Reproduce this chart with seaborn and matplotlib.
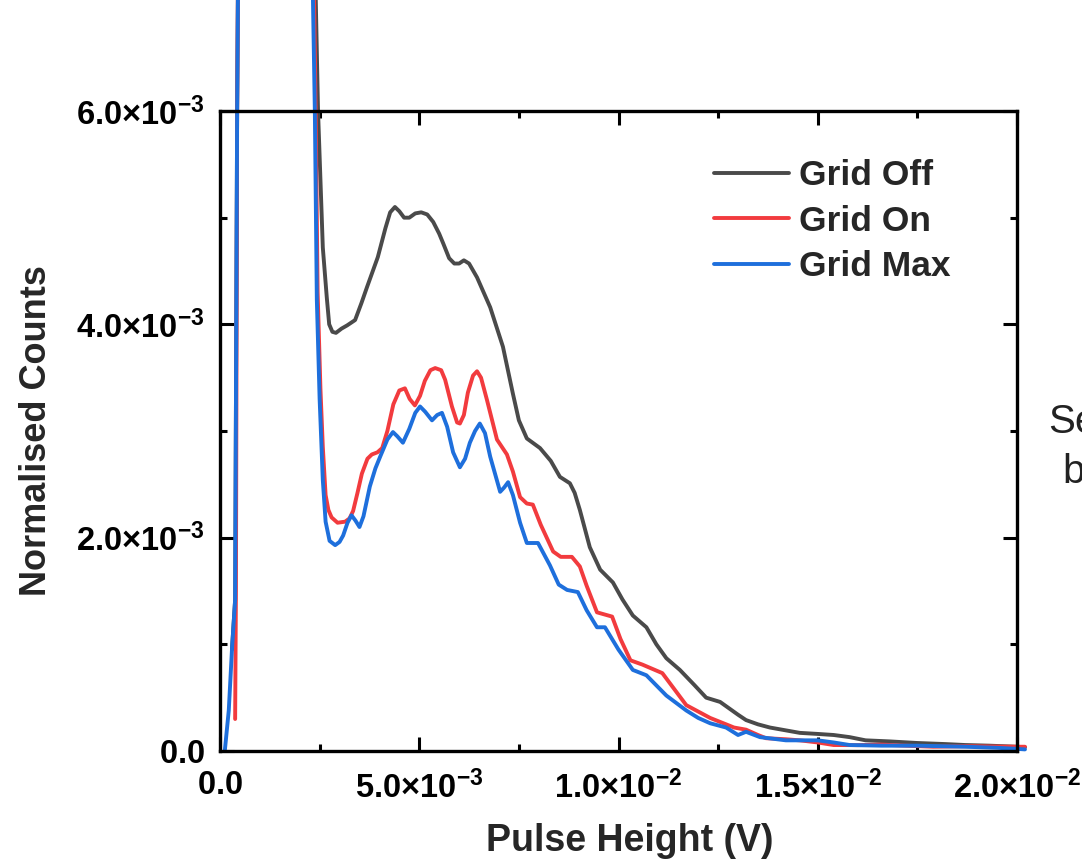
import matplotlib
matplotlib.use("Agg")
import matplotlib.pyplot as plt
import seaborn as sns
import pandas as pd
from matplotlib.ticker import FixedLocator, FixedFormatter, MultipleLocator

# values: x in units of 1e-3 V, y in units of 1e-3 counts
grid_off_x = [0.30, 0.38, 0.43, 0.45, 0.60, 1.40, 2.20, 2.40, 2.46, 2.58, 2.68, 2.74, 2.82, 2.91,
              3.05, 3.19, 3.39, 3.55, 3.69, 3.96, 4.15, 4.27, 4.39, 4.50, 4.62, 4.75, 4.90, 5.05,
              5.20, 5.35, 5.50, 5.60, 5.75, 5.88, 6.00, 6.12, 6.25, 6.45, 6.78, 7.10, 7.35, 7.50,
              7.70, 8.03, 8.30, 8.53, 8.78, 8.90, 9.03, 9.28, 9.54, 9.86, 10.1, 10.36, 10.7, 10.95,
              11.2, 11.54, 11.9, 12.2, 12.55, 13.0, 13.2, 13.5, 13.8, 14.1, 14.55, 15.0, 15.4,
              15.8, 16.2, 16.8, 17.5, 18.2, 18.7, 19.3, 20.0, 20.2]
grid_off_y = [0.95, 1.42, 6.0, 7.1, 10.0, 30.0, 10.5, 7.1, 6.0, 4.72, 4.25, 4.00, 3.93, 3.92,
              3.96, 3.99, 4.04, 4.20, 4.35, 4.63, 4.90, 5.05, 5.10, 5.06, 5.00, 5.00, 5.04, 5.05,
              5.03, 4.96, 4.85, 4.76, 4.62, 4.57, 4.57, 4.60, 4.57, 4.44, 4.16, 3.79, 3.35, 3.10,
              2.93, 2.84, 2.72, 2.57, 2.51, 2.42, 2.26, 1.91, 1.70, 1.58, 1.42, 1.27, 1.16, 1.00,
              0.87, 0.76, 0.62, 0.50, 0.46, 0.34, 0.29, 0.25, 0.22, 0.20, 0.17, 0.16, 0.15,
              0.13, 0.10, 0.09, 0.075, 0.065, 0.056, 0.05, 0.04, 0.035]

grid_on_x = [0.38, 0.40, 0.43, 0.45, 0.60, 1.40, 2.20, 2.36, 2.40, 2.45, 2.52, 2.58, 2.65, 2.72,
             2.80, 2.95, 3.14, 3.25, 3.34, 3.45, 3.56, 3.70, 3.81, 3.95, 4.07, 4.20, 4.35, 4.50,
             4.64, 4.76, 4.89, 5.02, 5.14, 5.28, 5.40, 5.55, 5.65, 5.82, 5.95, 6.02, 6.12, 6.22,
             6.35, 6.45, 6.55, 6.70, 6.95, 7.20, 7.35, 7.53, 7.70, 7.85, 8.05, 8.36, 8.55, 8.83,
             9.03, 9.20, 9.46, 9.84, 10.05, 10.3, 10.6, 11.1, 11.4, 11.7, 12.3, 12.9, 13.2, 13.5,
             13.7, 14.2, 14.55, 15.0, 15.4, 16.0, 16.6, 17.2, 17.9, 18.8, 20.0, 20.2]
grid_on_y = [0.30, 1.5, 6.0, 7.2, 10.0, 30.0, 10.5, 7.1, 6.0, 4.3, 3.4, 2.85, 2.40, 2.26,
             2.19, 2.14, 2.15, 2.18, 2.25, 2.42, 2.60, 2.74, 2.78, 2.80, 2.84, 3.00, 3.25, 3.38,
             3.40, 3.30, 3.24, 3.33, 3.47, 3.57, 3.59, 3.57, 3.48, 3.23, 3.08, 3.07, 3.15, 3.36,
             3.52, 3.56, 3.50, 3.29, 2.92, 2.78, 2.62, 2.38, 2.32, 2.31, 2.12, 1.87, 1.82, 1.82,
             1.73, 1.55, 1.30, 1.26, 1.05, 0.85, 0.81, 0.73, 0.58, 0.43, 0.31, 0.22, 0.20, 0.15,
             0.12, 0.11, 0.10, 0.08, 0.056, 0.055, 0.06, 0.05, 0.04, 0.045, 0.04, 0.04]

grid_max_x = [0.12, 0.22, 0.30, 0.38, 0.43, 0.45, 0.60, 1.40, 2.20, 2.33, 2.38, 2.43, 2.50, 2.58,
              2.65, 2.75, 2.89, 3.00, 3.09, 3.20, 3.30, 3.40, 3.50, 3.60, 3.76, 3.90, 4.02, 4.20,
              4.34, 4.45, 4.59, 4.75, 4.90, 5.02, 5.15, 5.32, 5.45, 5.57, 5.70, 5.85, 6.02, 6.15,
              6.27, 6.40, 6.52, 6.65, 6.78, 7.03, 7.13, 7.23, 7.35, 7.53, 7.70, 7.98, 8.28, 8.50,
              8.71, 8.98, 9.20, 9.46, 9.66, 10.0, 10.36, 10.7, 11.2, 11.7, 12.0, 12.3, 12.7, 13.0,
              13.2, 13.55, 14.2, 15.0, 15.4, 15.8, 16.6, 17.5, 18.7, 19.5, 20.0, 20.2]
grid_max_y = [0.0, 0.38, 0.95, 1.42, 6.0, 7.1, 9.8, 30.0, 10.5, 7.1, 6.0, 4.23, 3.3, 2.54,
              2.15, 1.97, 1.93, 1.96, 2.02, 2.14, 2.21, 2.16, 2.10, 2.20, 2.48, 2.65, 2.76, 2.92,
              2.99, 2.95, 2.89, 3.02, 3.17, 3.23, 3.18, 3.10, 3.15, 3.17, 3.04, 2.80, 2.66, 2.74,
              2.89, 3.00, 3.07, 2.98, 2.76, 2.43, 2.47, 2.52, 2.40, 2.14, 1.95, 1.95, 1.74, 1.56,
              1.51, 1.49, 1.32, 1.16, 1.16, 0.95, 0.76, 0.71, 0.52, 0.38, 0.31, 0.26, 0.22, 0.15,
              0.18, 0.13, 0.10, 0.10, 0.08, 0.056, 0.05, 0.05, 0.04, 0.03, 0.02, 0.015]

series_names = ["Grid Off", "Grid On", "Grid Max"]
series_colors = ["#4a4a4a", "#f23b3e", "#1e6fdc"]

x_ticks = [0.0, 5e-3, 1e-2, 1.5e-2, 2e-2]
x_tick_labels = [r"$\mathbf{0.0}$", r"$\mathbf{5.0{\times}10^{-3}}$", r"$\mathbf{1.0{\times}10^{-2}}$",
                 r"$\mathbf{1.5{\times}10^{-2}}$", r"$\mathbf{2.0{\times}10^{-2}}$"]
y_ticks = [0.0, 2e-3, 4e-3, 6e-3]
y_tick_labels = [r"$\mathbf{0.0}$", r"$\mathbf{2.0{\times}10^{-3}}$", r"$\mathbf{4.0{\times}10^{-3}}$",
                 r"$\mathbf{6.0{\times}10^{-3}}$"]

sns.set_theme(style="ticks")
plt.rcParams['font.family'] = ['Liberation Sans', 'DejaVu Sans']
plt.rcParams['font.weight'] = 'bold'
plt.rcParams['mathtext.fontset'] = 'custom'
plt.rcParams['mathtext.rm'] = 'Liberation Sans:bold'
plt.rcParams['mathtext.bf'] = 'Liberation Sans:bold'
plt.rcParams['mathtext.it'] = 'Liberation Sans:bold'

fig = plt.figure(figsize=(10.82, 8.65), dpi=100)
ax = fig.add_axes([220 / 1082, 1 - 751 / 865, 797 / 1082, 640 / 865])

all_x = [grid_off_x, grid_on_x, grid_max_x]
all_y = [grid_off_y, grid_on_y, grid_max_y]
for name, col, xs, ys in zip(series_names, series_colors, all_x, all_y):
    df = pd.DataFrame({"x": [v * 1e-3 for v in xs], "y": [v * 1e-3 for v in ys]})
    sns.lineplot(data=df, x="x", y="y", ax=ax, color=col, linewidth=2.8,
                 label=name, estimator=None, sort=False, clip_on=False)

ax.set_xlim(0, 0.02)
ax.set_ylim(0, 6e-3)
ax.xaxis.set_major_locator(FixedLocator(x_ticks))
ax.xaxis.set_major_formatter(FixedFormatter(x_tick_labels))
ax.xaxis.set_minor_locator(MultipleLocator(2.5e-3))
ax.yaxis.set_major_locator(FixedLocator(y_ticks))
ax.yaxis.set_major_formatter(FixedFormatter(y_tick_labels))
ax.yaxis.set_minor_locator(MultipleLocator(1e-3))

for sp in ax.spines.values():
    sp.set_linewidth(2.4)
    sp.set_color("black")
ax.tick_params(which="both", direction="in", top=True, right=True, width=2.2, colors="black")
ax.tick_params(which="major", length=10, labelsize=23.5)
ax.tick_params(axis="x", which="major", pad=14)
ax.tick_params(axis="y", which="major", pad=11)
ax.tick_params(which="minor", length=5)

ax.set_xlabel("Pulse Height (V)", fontsize=27, fontweight="bold")
ax.xaxis.set_label_coords(0.514, -0.113)
ax.set_ylabel("Normalised Counts", fontsize=26, fontweight="bold", labelpad=16)

leg = ax.legend(loc="upper left", bbox_to_anchor=(0.62, 0.925), frameon=False,
                fontsize=25.5, handlelength=2.1, handletextpad=0.3, labelspacing=0.36,
                borderpad=0, borderaxespad=0)
for t in leg.get_texts():
    t.set_fontweight("bold")
for h in leg.get_lines():
    h.set_linewidth(2.8)

fig.text(1048 / 1082, 1 - 422 / 865, "Se", fontsize=29, fontweight="normal",
         color="#222222", ha="left", va="center")
fig.text(1062 / 1082, 1 - 472 / 865, "b", fontsize=29, fontweight="normal",
         color="#222222", ha="left", va="center")

plt.savefig("out.png", dpi=100)
